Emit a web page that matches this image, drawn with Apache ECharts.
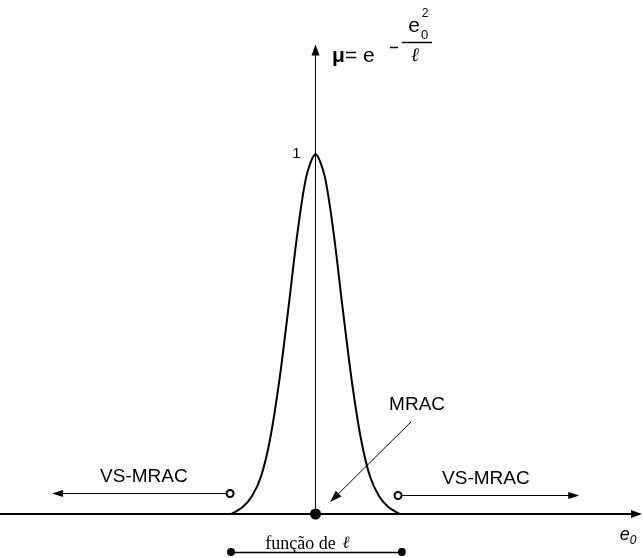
<!DOCTYPE html>
<html>
<head>
<meta charset="utf-8">
<script src="https://cdn.jsdelivr.net/npm/echarts@6/dist/echarts.min.js"></script>
<style>
  html, body { margin: 0; padding: 0; background: #ffffff; }
  #chart { width: 643px; height: 558px; }
</style>
</head>
<body>
<div id="chart"></div>
<script>
// Membership curve mu = exp(-e0^2 / l); e0 is measured in units of sqrt(l).
const e0Values = [-2.32, -2.0, -1.75, -1.5, -1.25, -1.0, -0.75, -0.5, -0.25, 0,
                  0.25, 0.5, 0.75, 1.0, 1.25, 1.5, 1.75, 2.0, 2.32];
const muValues = [0.0, 0.02, 0.05, 0.105, 0.21, 0.37, 0.57, 0.78, 0.94, 1.0,
                  0.94, 0.78, 0.57, 0.37, 0.21, 0.105, 0.05, 0.02, 0.0];

// Axis extents
const e0Range = [-8.7, 8.85];
const muRange = [0, 1.29];
const muTicks = [1];

// VS-MRAC regions: [open end, arrow end] along e0, and the height of the arrow
const vsLeft = [-2.357, -7.113];
const vsLeftMu = 0.057;
const vsRight = [2.275, 7.12];
const vsRightMu = 0.0515;

// MRAC pointer: [from, to] in (e0, mu), and its caption position
const mracFrom = [2.633, 0.256];
const mracTo = [0.518, 0.045];
const mracText = [2.80, 0.305];

// Width of the MRAC zone (depends on l)
const lSpan = [-2.33, 2.38];

const FONT = 'Liberation Sans, Arial, sans-serif';
const SERIF = 'Liberation Serif, Times New Roman, serif';
const TRI = 'path://M5,0L10,14L0,14Z';

const GRID_LEFT = 0, GRID_RIGHT = 6.5, GRID_TOP = 50, GRID_BOTTOM = 44;
const PLOT_W = 643 - GRID_LEFT - GRID_RIGHT;
// pixel distance from the grid's left edge to e0 = 0
const zeroOffset = PLOT_W * (0 - e0Range[0]) / (e0Range[1] - e0Range[0]);

const chart = echarts.init(document.getElementById('chart'), null, { renderer: 'canvas' });

const option = {
  animation: false,
  backgroundColor: '#ffffff',
  grid: [
    { left: GRID_LEFT, right: GRID_RIGHT, top: GRID_TOP, bottom: GRID_BOTTOM, containLabel: false, outerBoundsMode: 'none' },
    { left: GRID_LEFT, right: GRID_RIGHT, top: 514, bottom: 0, containLabel: false, outerBoundsMode: 'none' }
  ],
  xAxis: [
    {
      type: 'value', gridIndex: 0, min: e0Range[0], max: e0Range[1],
      axisLine: {
        show: true, onZero: false,
        lineStyle: { color: '#000', width: 2 },
        symbol: ['none', TRI], symbolSize: [8, 11]
      },
      axisTick: { show: false }, axisLabel: { show: false }, splitLine: { show: false },
      name: '{e|e}{s|0}',
      nameLocation: 'end',
      nameGap: 0,
      nameTextStyle: {
        align: 'right', verticalAlign: 'top', padding: [12, 0, 0, 0],
        rich: {
          e: { fontFamily: FONT, fontStyle: 'italic', fontSize: 18, lineHeight: 18, color: '#000' },
          s: { fontFamily: FONT, fontStyle: 'italic', fontSize: 12, lineHeight: 12, color: '#000', padding: [12, 0, 0, 0] }
        }
      }
    },
    {
      type: 'value', gridIndex: 1, min: e0Range[0], max: e0Range[1], show: false
    }
  ],
  yAxis: [
    {
      type: 'value', gridIndex: 0, min: muRange[0], max: muRange[1],
      position: 'left',
      offset: -zeroOffset,
      axisLine: {
        show: true, onZero: false,
        lineStyle: { color: '#000', width: 1 },
        symbol: ['none', TRI], symbolSize: [8, 14]
      },
      axisTick: { show: false },
      splitLine: { show: false },
      axisLabel: {
        customValues: muTicks,
        margin: 15, fontSize: 15, fontFamily: FONT, color: '#000', padding: [6, 0, 0, 0]
      }
    },
    {
      type: 'value', gridIndex: 1, min: 0, max: 1, show: false
    }
  ],
  series: [
    {
      name: 'mu',
      type: 'line',
      xAxisIndex: 0, yAxisIndex: 0,
      data: e0Values.map((v, i) => [v, muValues[i]]),
      smooth: 0.3,
      showSymbol: false,
      symbol: 'none',
      lineStyle: { color: '#000', width: 2 },
      silent: true,
      z: 3
    },
    {
      name: 'origin',
      type: 'scatter',
      xAxisIndex: 0, yAxisIndex: 0,
      data: [[0, 0]],
      symbolSize: 11,
      itemStyle: { color: '#000', opacity: 1 },
      silent: true,
      z: 5
    },
    {
      name: 'regions',
      type: 'line',
      xAxisIndex: 0, yAxisIndex: 0,
      data: [],
      silent: true,
      markLine: {
        silent: true,
        animation: false,
        lineStyle: { color: '#000', width: 1, type: 'solid' },
        label: {
          show: true, position: 'middle', formatter: 'VS-MRAC',
          fontFamily: FONT, fontSize: 19, color: '#000', distance: 7
        },
        data: [
          [
            { coord: [vsLeft[0], vsLeftMu], symbol: 'emptyCircle', symbolSize: 7 },
            { coord: [vsLeft[1], vsLeftMu], symbol: TRI, symbolSize: [7, 11] }
          ],
          [
            { coord: [vsRight[0], vsRightMu], symbol: 'emptyCircle', symbolSize: 7 },
            { coord: [vsRight[1], vsRightMu], symbol: TRI, symbolSize: [7, 11] }
          ],
          [
            { coord: mracFrom, symbol: 'none', label: { show: false } },
            { coord: mracTo, symbol: TRI, symbolSize: [8, 12] }
          ]
        ]
      }
    },
    {
      name: 'mracCaption',
      type: 'scatter',
      xAxisIndex: 0, yAxisIndex: 0,
      data: [mracText],
      symbolSize: 0,
      silent: true,
      itemStyle: { color: '#000', opacity: 1 },
      label: {
        show: true, position: 'top', distance: -10, formatter: 'MRAC',
        fontFamily: FONT, fontSize: 19, color: '#000', opacity: 1,
        textBorderWidth: 0
      }
    },
    {
      name: 'lSpan',
      type: 'line',
      xAxisIndex: 1, yAxisIndex: 1,
      data: [],
      silent: true,
      markLine: {
        silent: true,
        animation: false,
        symbol: ['circle', 'circle'],
        symbolSize: 8,
        lineStyle: { color: '#000', width: 1.3, type: 'solid' },
        label: {
          show: true, position: 'middle', distance: -1,
          formatter: '{t|função de}  {l|ℓ}',
          padding: [0, 18, 0, 0],
          rich: {
            t: { fontFamily: SERIF, fontSize: 18, lineHeight: 18, color: '#000' },
            l: { fontFamily: SERIF, fontStyle: 'italic', fontSize: 17, lineHeight: 18, color: '#000' }
          }
        },
        data: [
          [ { coord: [lSpan[0], 0.136] }, { coord: [lSpan[1], 0.136] } ]
        ]
      }
    }
  ],
  graphic: [
    {
      type: 'group', silent: true,
      children: [
        { type: 'text', x: 332, y: 56, style: { text: 'μ', fontFamily: FONT, fontWeight: 'bold', fontSize: 21, fill: '#000', verticalAlign: 'middle' } },
        { type: 'text', x: 345, y: 56, style: { text: '= e', fontFamily: FONT, fontSize: 21, fill: '#000', verticalAlign: 'middle' } },
        { type: 'line', shape: { x1: 390, y1: 47.5, x2: 398, y2: 47.5 }, style: { stroke: '#000', lineWidth: 1.5 } },
        { type: 'line', shape: { x1: 402, y1: 42.5, x2: 432, y2: 42.5 }, style: { stroke: '#000', lineWidth: 1.5 } },
        { type: 'text', x: 414, y: 26, style: { text: 'e', fontFamily: FONT, fontSize: 21, fill: '#000', align: 'center', verticalAlign: 'middle' } },
        { type: 'text', x: 424.5, y: 35, style: { text: '0', fontFamily: FONT, fontSize: 13, fill: '#000', align: 'center', verticalAlign: 'middle' } },
        { type: 'text', x: 425, y: 14, style: { text: '2', fontFamily: FONT, fontSize: 12, fill: '#000', align: 'center', verticalAlign: 'middle' } },
        { type: 'text', x: 415, y: 56, style: { text: 'ℓ', fontFamily: SERIF, fontStyle: 'italic', fontSize: 19, fill: '#000', align: 'center', verticalAlign: 'middle' } }
      ]
    }
  ]
};

chart.setOption(option);
</script>
</body>
</html>
